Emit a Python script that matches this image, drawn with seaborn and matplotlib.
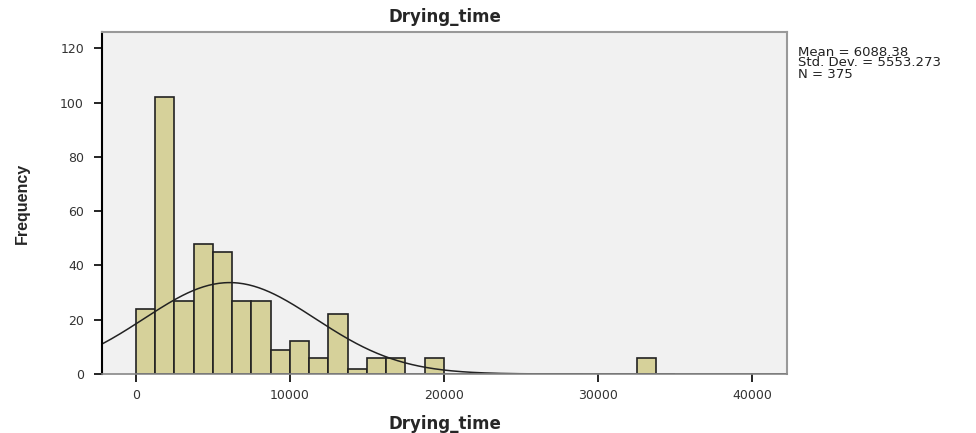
import numpy as np
import pandas as pd
import seaborn as sns
import matplotlib.pyplot as plt

# histogram counts (bin width 1250)
bin_left = [0, 1250, 2500, 3750, 5000, 6250, 7500, 8750, 10000, 11250,
            12500, 13750, 15000, 16250, 17500, 18750, 32500]
counts = [24, 102, 27, 48, 45, 27, 27, 9, 12, 6, 22, 2, 6, 6, 0, 6, 6]
bin_width = 1250

mean_val = 6088.38
std_val = 5553.273
n_val = 375

xticks = [0, 10000, 20000, 30000, 40000]
yticks = [0, 20, 40, 60, 80, 100, 120]

data = pd.DataFrame({'x': np.array(bin_left) + bin_width / 2, 'count': counts})

sns.set_style('white')
plt.rcParams['font.family'] = ['DejaVu Sans']

fig = plt.figure(figsize=(9.76, 4.33), dpi=100)
ax = fig.add_axes([102 / 976, 1 - 374 / 433, (787 - 102) / 976, (374 - 32) / 433])
ax.set_facecolor('#f1f1f1')

sns.histplot(data=data, x='x', weights='count', binwidth=bin_width,
             binrange=(0, 35000), ax=ax,
             color='#d6d19a', alpha=1, edgecolor='#222222', linewidth=1.2)

# fitted normal curve
xs = np.linspace(-2500, 42500, 400)
ys = n_val * bin_width * np.exp(-0.5 * ((xs - mean_val) / std_val) ** 2) / (std_val * np.sqrt(2 * np.pi))
sns.lineplot(x=xs, y=ys, ax=ax, color='#222222', linewidth=1.1)

ax.set_xlim(-2200, 42270)
ax.set_ylim(0, 126)
ax.set_xticks(xticks)
ax.set_yticks(yticks)
ax.tick_params(axis='both', bottom=True, left=True, direction='out',
               length=6, width=1.2, labelsize=9, color='black',
               labelcolor='#333333')
ax.tick_params(axis='x', pad=5)
ax.tick_params(axis='y', pad=7)
for s in ['top', 'right']:
    ax.spines[s].set_color('#999999')
    ax.spines[s].set_linewidth(1.5)
ax.spines['bottom'].set_color('#888888')
ax.spines['bottom'].set_linewidth(1.2)
ax.spines['left'].set_color('black')
ax.spines['left'].set_linewidth(1.5)

ax.set_title('Drying_time', fontsize=12, fontweight='bold', pad=7)
ax.set_xlabel('Drying_time', fontsize=12, fontweight='bold', labelpad=9)
ax.set_ylabel('Frequency', fontsize=11.5, fontweight='bold', labelpad=22,
              family='Liberation Sans')

fig.text(798 / 976, 1 - 63 / 433,
         'Mean = 6088.38\nStd. Dev. = 5553.273\nN = 375',
         fontsize=9.5, color='#222222', va='center', linespacing=0.8)

plt.savefig('out.png', dpi=100)
